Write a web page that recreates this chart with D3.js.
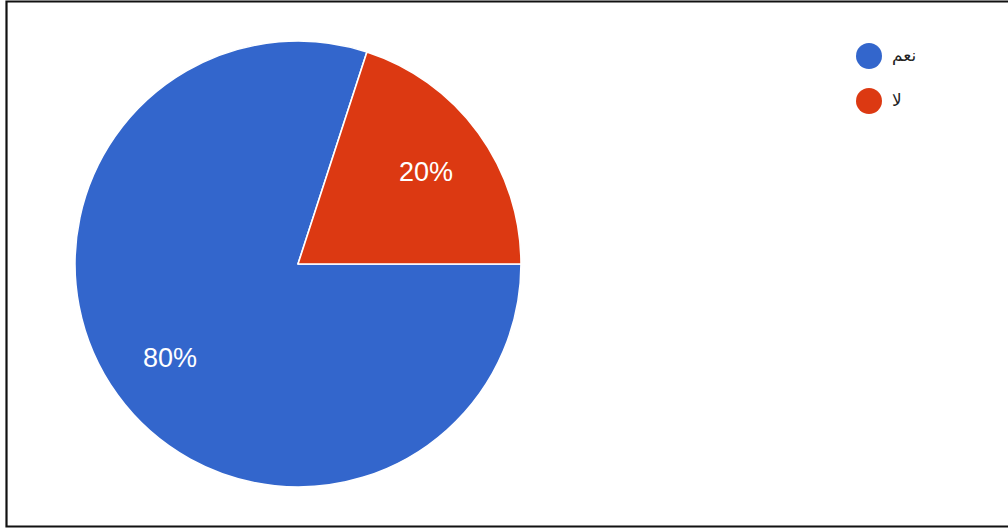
<!DOCTYPE html>
<html>
<head>
<meta charset="utf-8">
<script src="https://cdn.jsdelivr.net/npm/d3@7"></script>
<style>
  html, body { margin: 0; padding: 0; background: #fff; }
  svg { display: block; }
</style>
</head>
<body>
<svg id="chart" width="1008" height="529"></svg>
<script>
// Survey answers and their shares (percent)
const answers = ["نعم", "لا"];
const shares = [80, 20];
const sliceColors = ["#3366cc", "#dc3912"];

const svg = d3.select("#chart");
const W = 1008, H = 529;

// Frame: top, left and bottom edges
const frame = svg.append("g")
  .attr("stroke", "#111")
  .attr("stroke-width", 2.2)
  .attr("fill", "none");
frame.append("path")
  .attr("d", `M${W},1.5 H6.5 V526.5 H${W}`);

const cx = 298, cy = 264, radius = 223;

const color = d3.scaleOrdinal().domain(answers).range(sliceColors);

const pie = d3.pie()
  .sort(null)
  .value(d => d.value)
  .startAngle(Math.PI / 2)
  .endAngle(Math.PI / 2 + 2 * Math.PI);

const data = answers.map((a, i) => ({ label: a, value: shares[i] }));
const arcs = pie(data);

const arc = d3.arc().innerRadius(0).outerRadius(radius);
const labelArc = d3.arc().innerRadius(radius * 0.71).outerRadius(radius * 0.71);

const g = svg.append("g").attr("transform", `translate(${cx},${cy})`);

g.selectAll("path.slice")
  .data(arcs)
  .join("path")
  .attr("class", "slice")
  .attr("d", arc)
  .attr("fill", d => color(d.data.label))
  .attr("stroke", "#fff")
  .attr("stroke-width", 1.6)
  .attr("stroke-linejoin", "round");

const total = d3.sum(shares);
g.selectAll("text.pct")
  .data(arcs)
  .join("text")
  .attr("class", "pct")
  .attr("transform", d => `translate(${labelArc.centroid(d)})`)
  .attr("text-anchor", "middle")
  .attr("dy", "0.36em")
  .attr("fill", "#fff")
  .attr("font-family", "Arial, 'Liberation Sans', sans-serif")
  .attr("font-size", 27)
  .text(d => Math.round(d.data.value / total * 100) + "%");

// Legend
const legend = svg.append("g").attr("transform", "translate(869,56)");
const items = legend.selectAll("g.item")
  .data(answers)
  .join("g")
  .attr("class", "item")
  .attr("transform", (d, i) => `translate(0,${i * 45})`);

items.append("circle")
  .attr("r", 13)
  .attr("fill", d => color(d));

items.append("text")
  .attr("x", 23)
  .attr("dy", "0.3em")
  .attr("fill", "#222")
  .attr("font-family", "'DejaVu Sans', 'Noto Sans', Arial, sans-serif")
  .attr("font-size", 17)
  .text(d => d);
</script>
</body>
</html>
